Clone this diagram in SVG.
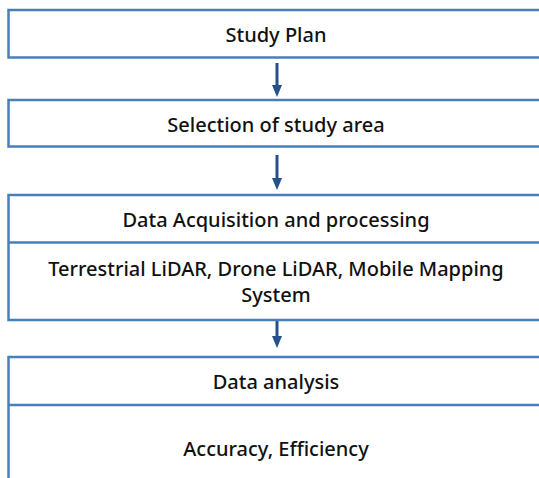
<svg xmlns="http://www.w3.org/2000/svg" width="539" height="478" viewBox="0 0 539 478">
<style>
.box{fill:#ffffff;stroke:#4a7ebb;stroke-width:2.5}
.div{stroke:#4a7ebb;stroke-width:2.5}
.t{font-family:"Noto Sans","Liberation Sans",sans-serif;font-size:20px;font-weight:500;fill:#111111;text-anchor:middle}
.arr{stroke:#24508c;stroke-width:3;fill:none}
</style>
<rect width="539" height="478" fill="#ffffff"/>
<g id="connectors">
<line class="arr" x1="277" y1="63" x2="277" y2="86"/><path d="M272,85 L282,85 L277,97 Z" fill="#24508c"/>
<line class="arr" x1="277" y1="155" x2="277" y2="179"/><path d="M272,178 L282,178 L277,190 Z" fill="#24508c"/>
<line class="arr" x1="277" y1="321" x2="277" y2="337"/><path d="M272,336 L282,336 L277,348 Z" fill="#24508c"/>
</g>
<g id="study-plan">
<rect class="box" x="8.5" y="10" width="540" height="47.5"/>
<text class="t" x="276" y="42">Study Plan</text>
</g>
<g id="selection">
<rect class="box" x="8.5" y="100" width="540" height="46.5"/>
<text class="t" x="276" y="132">Selection of study area</text>
</g>
<g id="acquisition">
<rect class="box" x="8.5" y="195" width="540" height="125"/>
<line class="div" x1="8.5" y1="242.5" x2="548" y2="242.5"/>
<text class="t" x="276" y="227">Data Acquisition and processing</text>
<text class="t" x="276" y="276">Terrestrial  LiDAR,  Drone LiDAR,  Mobile Mapping</text>
<text class="t" x="276" y="302">System</text>
</g>
<g id="analysis">
<rect class="box" x="8.5" y="357" width="540" height="140"/>
<line class="div" x1="8.5" y1="405" x2="548" y2="405"/>
<text class="t" x="276" y="389">Data analysis</text>
<text class="t" x="276" y="456">Accuracy, Efficiency</text>
</g>
</svg>
